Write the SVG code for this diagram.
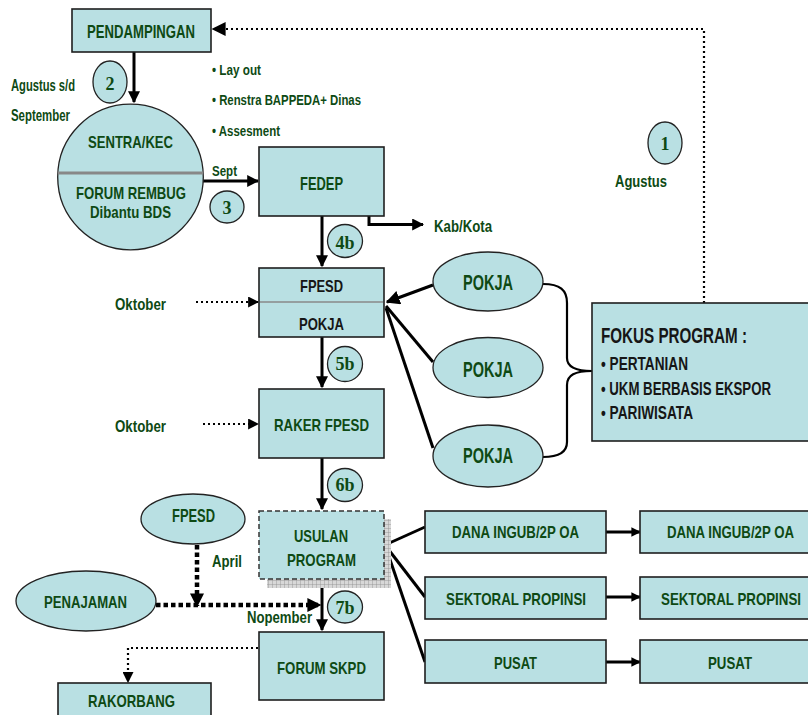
<svg xmlns="http://www.w3.org/2000/svg" width="808" height="715" viewBox="0 0 808 715">
  <defs>
    <style>
      .box { fill: #b9e0e3; stroke: #1e1e1e; stroke-width: 1.6; }
      .ell { fill: #b9e0e3; stroke: #222; stroke-width: 1.3; }
      text { font-family: "Liberation Sans", Arial, sans-serif; font-weight: bold; }
      .g { fill: #0e4a14; }
      .k { fill: #161616; }
      .num { font-family: "Liberation Serif", "Times New Roman", serif; fill: #0e4a14; font-size: 18px; text-anchor: middle; }
      .solid { stroke: #000; stroke-width: 3; fill: none; }
      .dotfine { stroke: #000; stroke-width: 2.2; fill: none; stroke-dasharray: 2 3; }
      .dotthick { stroke: #000; stroke-width: 4.5; fill: none; stroke-dasharray: 4.5 3; }
    </style>
    <marker id="ah" viewBox="0 0 10 10" refX="9" refY="5" markerWidth="4" markerHeight="4" orient="auto" markerUnits="strokeWidth">
      <path d="M0,0 L10,5 L0,10 z" fill="#000"/>
    </marker>
    <marker id="ahs" viewBox="0 0 10 10" refX="9" refY="5" markerWidth="3.2" markerHeight="3.2" orient="auto" markerUnits="strokeWidth">
      <path d="M0,0 L10,5 L0,10 z" fill="#000"/>
    </marker>
    <marker id="ahd" viewBox="0 0 10 10" refX="9" refY="5" markerWidth="11" markerHeight="11" orient="auto" markerUnits="userSpaceOnUse">
      <path d="M0,0 L10,5 L0,10 z" fill="#000"/>
    </marker>
    <marker id="ahb" viewBox="0 0 10 10" refX="9" refY="5" markerWidth="14" markerHeight="14" orient="auto" markerUnits="userSpaceOnUse">
      <path d="M0,0 L10,5 L0,10 z" fill="#000"/>
    </marker>
    <pattern id="grid" width="4" height="4" patternUnits="userSpaceOnUse">
      <rect width="4" height="4" fill="#d8d8d8"/>
      <path d="M0,0 H4 M0,0 V4" stroke="#8c8c8c" stroke-width="0.8"/>
    </pattern>
  </defs>

  <rect width="808" height="715" fill="#fff"/>

  <!-- connectors -->
  <g id="connectors">
    <!-- feedback from focus box to PENDAMPINGAN -->
    <path class="dotfine" d="M704,303 V29 H213" marker-end="url(#ahb)"/>
    <!-- main vertical flow -->
    <path class="solid" d="M134,52 V102" marker-end="url(#ah)"/>
    <path class="solid" d="M203,181 H258" stroke-width="2.5" marker-end="url(#ah)"/>
    <path class="solid" d="M322,216 V266" marker-end="url(#ah)"/>
    <path class="solid" d="M369,216 V224.5 H423" marker-end="url(#ah)"/>
    <path class="solid" d="M322,337 V387" marker-end="url(#ah)"/>
    <path class="solid" d="M322,458 V509" marker-end="url(#ah)"/>
    <path class="solid" d="M322,579 V630" marker-end="url(#ah)"/>
    <!-- month pointers -->
    <path class="dotfine" d="M196,302 H258" marker-end="url(#ahd)"/>
    <path class="dotfine" d="M203,424 H258" marker-end="url(#ahd)"/>
    <!-- PENAJAMAN / FPESD into forum -->
    <path class="dotthick" d="M156,605 H320" marker-end="url(#ahb)"/>
    <path class="dotthick" d="M197,545 V606" marker-end="url(#ahb)"/>
    <!-- forum to RAKORBANG -->
    <path class="dotfine" d="M258,648 H128 V682" marker-end="url(#ahd)"/>
    <!-- POKJA into FPESD -->
    <path class="solid" d="M433,285 L387,302" marker-end="url(#ahb)"/>
    <path class="solid" d="M433,362 L386,306"/>
    <path class="solid" d="M433,448 L386,308"/>
    <!-- brace grouping POKJA to focus -->
    <path d="M543,284 C560,284 567,290 567,303 V358 C567,367 575,371 592,371 C575,371 567,375 567,385 V442 C567,452 560,457 543,457" fill="none" stroke="#000" stroke-width="2.2"/>
    <!-- USULAN PROGRAM fan-out -->
    <path class="solid" d="M385,545 L425,527"/>
    <path class="solid" d="M385,545 L425,597"/>
    <path class="solid" d="M385,545 L425,662"/>
    <!-- level to level -->
    <path class="solid" d="M606,532 H640" stroke-width="4" marker-end="url(#ahs)"/>
    <path class="solid" d="M606,597 H640" stroke-width="4" marker-end="url(#ahs)"/>
    <path class="solid" d="M606,662 H640" stroke-width="4" marker-end="url(#ahs)"/>
  </g>

  <!-- free labels -->
  <g id="labels" class="g" font-size="16">
    <text x="11" y="91" textLength="64" lengthAdjust="spacingAndGlyphs">Agustus s/d</text>
    <text x="11" y="121" textLength="59" lengthAdjust="spacingAndGlyphs">September</text>
    <text x="212" y="75" font-size="15" textLength="49" lengthAdjust="spacingAndGlyphs">• Lay out</text>
    <text x="212" y="105" font-size="15" textLength="149" lengthAdjust="spacingAndGlyphs">• Renstra BAPPEDA+ Dinas</text>
    <text x="212" y="136" font-size="15" textLength="68" lengthAdjust="spacingAndGlyphs">• Assesment</text>
    <text x="212" y="176" font-size="15" textLength="25" lengthAdjust="spacingAndGlyphs">Sept</text>
    <text x="434" y="232" font-size="17" textLength="58" lengthAdjust="spacingAndGlyphs">Kab/Kota</text>
    <text x="615" y="187" font-size="17" textLength="52" lengthAdjust="spacingAndGlyphs">Agustus</text>
    <text x="115" y="310" font-size="17" textLength="51" lengthAdjust="spacingAndGlyphs">Oktober</text>
    <text x="115" y="432" font-size="17" textLength="51" lengthAdjust="spacingAndGlyphs">Oktober</text>
    <text x="212" y="567" font-size="17" textLength="30" lengthAdjust="spacingAndGlyphs">April</text>
    <text x="247" y="623" font-size="17" textLength="65" lengthAdjust="spacingAndGlyphs">Nopember</text>
  </g>

  <!-- step markers -->
  <g id="steps">
    <g id="step-1"><ellipse class="ell" cx="665" cy="143" rx="17" ry="21"/><text class="num" x="665" y="150">1</text></g>
    <g id="step-2"><ellipse class="ell" cx="110" cy="82" rx="17" ry="21"/><text class="num" x="110" y="90">2</text></g>
    <g id="step-3"><ellipse class="ell" cx="227" cy="207" rx="17" ry="16"/><text class="num" x="227" y="214">3</text></g>
    <g id="step-4b"><ellipse class="ell" cx="345" cy="241" rx="17.5" ry="16.5"/><text class="num" x="345" y="249">4b</text></g>
    <g id="step-5b"><ellipse class="ell" cx="345" cy="364" rx="17.5" ry="17.5"/><text class="num" x="345" y="370">5b</text></g>
    <g id="step-6b"><ellipse class="ell" cx="345" cy="485" rx="17.5" ry="16.5"/><text class="num" x="345" y="491">6b</text></g>
    <g id="step-7b"><ellipse class="ell" cx="345" cy="607" rx="17.5" ry="16"/><text class="num" x="345" y="614">7b</text></g>
  </g>

  <g id="pendampingan">
    <rect class="box" x="72" y="9" width="139" height="43"/>
    <text class="g" x="87" y="38" font-size="18" textLength="108" lengthAdjust="spacingAndGlyphs">PENDAMPINGAN</text>
  </g>

  <g id="sentra-kec">
    <circle class="ell" cx="130.5" cy="177" r="72.8" stroke-width="1.5"/>
    <line x1="58" y1="173" x2="203" y2="173" stroke="#888" stroke-width="3"/>
    <text class="g" x="88" y="148" font-size="17" textLength="85" lengthAdjust="spacingAndGlyphs">SENTRA/KEC</text>
    <text class="g" x="76" y="199" font-size="17" textLength="110" lengthAdjust="spacingAndGlyphs">FORUM REMBUG</text>
    <text class="g" x="90" y="218" font-size="17" textLength="81" lengthAdjust="spacingAndGlyphs">Dibantu BDS</text>
  </g>

  <g id="fedep">
    <rect class="box" x="259" y="147" width="125" height="69"/>
    <text class="g" x="300" y="190" font-size="18" textLength="43" lengthAdjust="spacingAndGlyphs">FEDEP</text>
  </g>

  <g id="fpesd-pokja">
    <rect class="box" x="259" y="268" width="125" height="69"/>
    <line x1="260" y1="302" x2="383" y2="302" stroke="#8a8a8a" stroke-width="1.5"/>
    <text class="k" x="300" y="292" font-size="17" textLength="43" lengthAdjust="spacingAndGlyphs">FPESD</text>
    <text class="k" x="299" y="330" font-size="17" textLength="45" lengthAdjust="spacingAndGlyphs">POKJA</text>
  </g>

  <g id="raker-fpesd">
    <rect class="box" x="259" y="389" width="125" height="69"/>
    <text class="g" x="274" y="431" font-size="17" textLength="95" lengthAdjust="spacingAndGlyphs">RAKER FPESD</text>
  </g>

  <g id="usulan-program">
    <rect x="267" y="519" width="124" height="69" fill="url(#grid)"/>
    <rect x="259" y="511" width="125" height="68" fill="#b9e0e3" stroke="#333" stroke-width="1.5" stroke-dasharray="5 3"/>
    <text class="g" x="294" y="542" font-size="17" textLength="54" lengthAdjust="spacingAndGlyphs">USULAN</text>
    <text class="g" x="287" y="566" font-size="17" textLength="69" lengthAdjust="spacingAndGlyphs">PROGRAM</text>
  </g>

  <g id="forum-skpd">
    <rect class="box" x="259" y="632" width="125" height="68"/>
    <text class="g" x="277" y="674" font-size="17" textLength="89" lengthAdjust="spacingAndGlyphs">FORUM SKPD</text>
  </g>

  <g id="rakorbang">
    <rect class="box" x="58" y="683" width="153" height="40"/>
    <text class="g" x="88" y="707" font-size="17" textLength="87" lengthAdjust="spacingAndGlyphs">RAKORBANG</text>
  </g>

  <g id="fpesd-ellipse">
    <ellipse class="ell" cx="193" cy="519" rx="52" ry="25"/>
    <text class="g" x="172" y="522" font-size="18" textLength="43" lengthAdjust="spacingAndGlyphs">FPESD</text>
  </g>

  <g id="penajaman">
    <ellipse class="ell" cx="86" cy="601" rx="70" ry="30"/>
    <text class="g" x="44" y="608" font-size="16" textLength="83" lengthAdjust="spacingAndGlyphs">PENAJAMAN</text>
  </g>

  <g id="pokja-1">
    <ellipse class="ell" cx="488" cy="281.5" rx="55" ry="29.5"/>
    <text class="g" x="463" y="290" font-size="22" textLength="50" lengthAdjust="spacingAndGlyphs">POKJA</text>
  </g>
  <g id="pokja-2">
    <ellipse class="ell" cx="488" cy="367.5" rx="55" ry="30"/>
    <text class="g" x="463" y="377" font-size="22" textLength="50" lengthAdjust="spacingAndGlyphs">POKJA</text>
  </g>
  <g id="pokja-3">
    <ellipse class="ell" cx="488" cy="456" rx="55" ry="31"/>
    <text class="g" x="463" y="463" font-size="22" textLength="50" lengthAdjust="spacingAndGlyphs">POKJA</text>
  </g>

  <g id="fokus-program">
    <rect class="box" x="592" y="303" width="220" height="138"/>
    <text class="k" x="601" y="343" font-size="22" textLength="146" lengthAdjust="spacingAndGlyphs">FOKUS PROGRAM :</text>
    <text class="k" x="601" y="370" font-size="18" textLength="87" lengthAdjust="spacingAndGlyphs">• PERTANIAN</text>
    <text class="k" x="601" y="395" font-size="18" textLength="170" lengthAdjust="spacingAndGlyphs">• UKM BERBASIS EKSPOR</text>
    <text class="k" x="601" y="419" font-size="18" textLength="92" lengthAdjust="spacingAndGlyphs">• PARIWISATA</text>
  </g>

  <g id="dana-ingub-1">
    <rect class="box" x="425" y="511" width="181" height="42"/>
    <text class="g" x="452" y="538" font-size="17" textLength="127" lengthAdjust="spacingAndGlyphs">DANA INGUB/2P OA</text>
  </g>
  <g id="sektoral-1">
    <rect class="box" x="425" y="577" width="181" height="42"/>
    <text class="g" x="446" y="605" font-size="17" textLength="140" lengthAdjust="spacingAndGlyphs">SEKTORAL PROPINSI</text>
  </g>
  <g id="pusat-1">
    <rect class="box" x="425" y="640" width="181" height="43"/>
    <text class="g" x="494" y="669" font-size="17" textLength="43" lengthAdjust="spacingAndGlyphs">PUSAT</text>
  </g>
  <g id="dana-ingub-2">
    <rect class="box" x="640" y="511" width="180" height="42"/>
    <text class="g" x="667" y="538" font-size="17" textLength="127" lengthAdjust="spacingAndGlyphs">DANA INGUB/2P OA</text>
  </g>
  <g id="sektoral-2">
    <rect class="box" x="640" y="577" width="180" height="42"/>
    <text class="g" x="661" y="605" font-size="17" textLength="140" lengthAdjust="spacingAndGlyphs">SEKTORAL PROPINSI</text>
  </g>
  <g id="pusat-2">
    <rect class="box" x="640" y="640" width="180" height="43"/>
    <text class="g" x="708" y="669" font-size="17" textLength="44" lengthAdjust="spacingAndGlyphs">PUSAT</text>
  </g>
</svg>
